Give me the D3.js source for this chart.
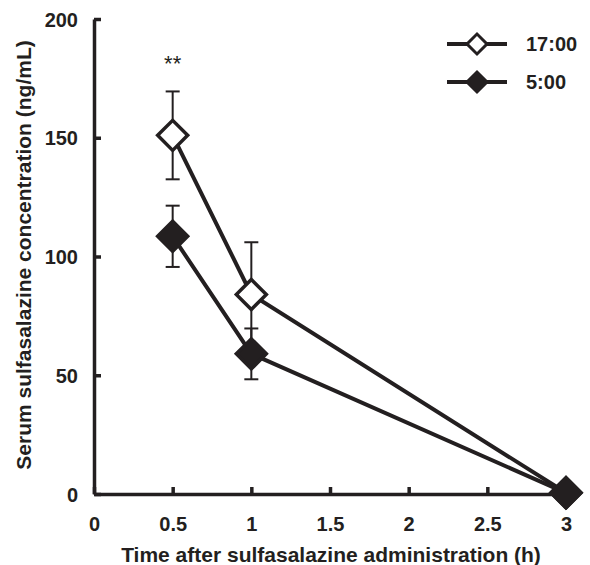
<!DOCTYPE html>
<html>
<head>
<meta charset="utf-8">
<script src="https://cdn.jsdelivr.net/npm/d3@7"></script>
<style>
  body { margin: 0; background: #fff; }
  svg text { font-family: "Liberation Sans", Arial, sans-serif; fill: #231f20; }
</style>
</head>
<body>
<svg id="chart" width="590" height="565"></svg>
<script>
// time points (h)
const times = [0.5, 1, 3];
// mean serum concentration and SD (ng/mL)
const eveningMean = [151, 84, 0.5];
const eveningSD = [18.5, 22, 0];
const morningMean = [108.5, 59, 0.5];
const morningSD = [12.9, 10.7, 0];
const seriesNames = ["17:00", "5:00"];
const xTicks = [0, 0.5, 1, 1.5, 2, 2.5, 3];
const yTicks = [0, 50, 100, 150, 200];

const ink = "#231f20";
const svg = d3.select("#chart");

const x = d3.scaleLinear().domain([0, 3]).range([94, 566]);
const y = d3.scaleLinear().domain([0, 200]).range([494, 19]);

const series = [
    { name: seriesNames[0], mean: eveningMean, sd: eveningSD, fill: "#fff" },
    { name: seriesNames[1], mean: morningMean, sd: morningSD, fill: ink }
];

// axes
const xAxis = svg.append("g")
    .attr("transform", `translate(0,${y(0)})`)
    .call(d3.axisBottom(x).tickValues(xTicks).tickFormat(d => String(d))
        .tickSize(-7).tickSizeOuter(0).tickPadding(23));

const yAxis = svg.append("g")
    .attr("transform", `translate(${x(0)},0)`)
    .call(d3.axisLeft(y).tickValues(yTicks).tickSize(-7).tickSizeOuter(0).tickPadding(16));

[xAxis, yAxis].forEach(g => {
    g.select(".domain").attr("stroke", ink).attr("stroke-width", 3.5);
    g.selectAll(".tick line").attr("stroke", ink).attr("stroke-width", 3.5);
    g.selectAll(".tick text").attr("font-size", 20).attr("font-weight", "bold")
        .attr("font-family", null);
});
yAxis.selectAll(".tick text").attr("dy", "0.36em");

// axis titles
svg.append("text")
    .attr("x", 331).attr("y", 562)
    .attr("text-anchor", "middle")
    .attr("font-size", 21).attr("font-weight", "bold")
    .text("Time after sulfasalazine administration (h)");

svg.append("text")
    .attr("transform", "translate(31,255) rotate(-90)")
    .attr("text-anchor", "middle")
    .attr("font-size", 21).attr("font-weight", "bold")
    .text("Serum sulfasalazine concentration (ng/mL)");

const line = d3.line().x(d => x(d.t)).y(d => y(d.v));
const pts = s => times.map((t, i) => ({ t: t, v: s.mean[i], sd: s.sd[i] }));

// error bars
series.forEach(s => {
    const eb = svg.append("g").attr("stroke", ink).attr("stroke-width", 2);
    pts(s).filter(d => d.sd > 0).forEach(d => {
        eb.append("line").attr("x1", x(d.t)).attr("x2", x(d.t))
            .attr("y1", y(d.v - d.sd)).attr("y2", y(d.v + d.sd));
        [d.v - d.sd, d.v + d.sd].forEach(v => {
            eb.append("line").attr("x1", x(d.t) - 7).attr("x2", x(d.t) + 7)
                .attr("y1", y(v)).attr("y2", y(v));
        });
    });
});

// lines
series.forEach(s => {
    svg.append("path")
        .attr("d", line(pts(s)))
        .attr("fill", "none")
        .attr("stroke", ink)
        .attr("stroke-width", 4);
});

// diamond markers
const diamond = d3.symbol().type(d3.symbolSquare).size(450);
series.forEach(s => {
    svg.append("g").selectAll("path")
        .data(pts(s))
        .join("path")
        .attr("d", diamond)
        .attr("transform", d => `translate(${x(d.t)},${y(d.v)}) rotate(45)`)
        .attr("fill", s.fill)
        .attr("stroke", ink)
        .attr("stroke-width", 3.5);
});

// significance mark
svg.append("text")
    .attr("x", x(0.5)).attr("y", y(eveningMean[0] + eveningSD[0]) - 20)
    .attr("text-anchor", "middle")
    .attr("font-size", 22)
    .text("**");

// legend
const legend = svg.append("g");
const legendSymbol = d3.symbol().type(d3.symbolSquare).size(200);
series.forEach((s, i) => {
    const ly = 44 + i * 38;
    legend.append("line")
        .attr("x1", 447).attr("x2", 507).attr("y1", ly).attr("y2", ly)
        .attr("stroke", ink).attr("stroke-width", 4);
    legend.append("path")
        .attr("d", legendSymbol)
        .attr("transform", `translate(477,${ly}) rotate(45)`)
        .attr("fill", s.fill).attr("stroke", ink).attr("stroke-width", 3);
    legend.append("text")
        .attr("x", 526).attr("y", ly).attr("dy", "0.36em")
        .attr("font-size", 20).attr("font-weight", "bold")
        .text(s.name);
});
</script>
</body>
</html>
